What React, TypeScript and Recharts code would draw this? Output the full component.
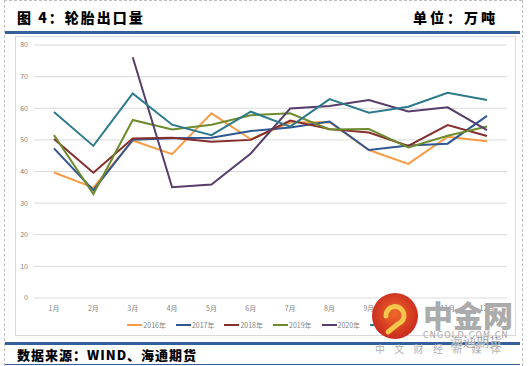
import React from 'react';
import { LineChart, Line, XAxis, YAxis, CartesianGrid, Legend } from 'recharts';

const months = ['1月', '2月', '3月', '4月', '5月', '6月', '7月', '8月', '9月', '10月', '11月', '12月'];
const s2016 = [39.7, 34.9, 49.8, 45.5, 58.4, 50.2, 55.5, 55.6, 46.8, 42.4, 51.0, 49.6];
const s2017 = [47.3, 34.1, 50.0, 50.5, 50.7, 52.8, 53.9, 55.8, 46.8, 48.2, 48.8, 57.6];
const s2018 = [50.3, 39.6, 50.4, 50.7, 49.4, 50.0, 56.1, 53.4, 52.3, 48.1, 54.7, 51.2];
const s2019 = [51.5, 32.9, 56.3, 53.3, 54.8, 57.8, 58.4, 53.3, 53.4, 47.6, 51.3, 54.2];
const s2020 = [null, null, 76.1, 35.0, 35.9, 45.7, 59.9, 60.7, 62.6, 59.0, 60.3, 53.1];
const s2021 = [58.8, 48.1, 64.7, 54.8, 51.5, 58.9, 54.2, 62.9, 58.6, 60.5, 64.9, 62.6];
const yTicks = [0, 10, 20, 30, 40, 50, 60, 70, 80];

const seriesNames = ['2016年', '2017年', '2018年', '2019年', '2020年', '2021年'];
const seriesValues = [s2016, s2017, s2018, s2019, s2020, s2021];
const seriesColors = ['#F99B45', '#2F5791', '#862D2E', '#6E8C2E', '#573D6B', '#2C7A8A'];

const data = months.map((m, i) => {
  const row: Record<string, any> = { month: m };
  seriesNames.forEach((n, k) => {
    row[n] = seriesValues[k][i];
  });
  return row;
});

const tickFont = { fontSize: 7, fill: '#7F7F7F', fontFamily: '"Noto Sans CJK SC", sans-serif' };

const LegendContent = () => (
  <div style={{ display: 'flex', justifyContent: 'center', alignItems: 'center', fontFamily: '"Noto Sans CJK SC", sans-serif', fontSize: 7, color: '#7F7F7F', lineHeight: '10px', paddingTop: 2, paddingLeft: 16 }}>
    {seriesNames.map((n, k) => (
      <div key={n} style={{ display: 'flex', alignItems: 'center', marginRight: 10 }}>
        <svg width={15} height={4} style={{ marginRight: 1 }}>
          <line x1={0} y1={2} x2={15} y2={2} stroke={seriesColors[k]} strokeWidth={2} />
        </svg>
        <span>{n}</span>
      </div>
    ))}
  </div>
);

export default function App() {
  return (
    <div style={{ position: 'absolute', left: 0, top: 0, width: 528, height: 366, background: '#fff', overflow: 'hidden' }}>
      {/* dashed page borders */}
      <div style={{ position: 'absolute', left: 4, top: 0, width: 0, height: 366, borderLeft: '1px dashed #BFBFBF' }} />
      <div style={{ position: 'absolute', left: 522, top: 0, width: 0, height: 366, borderLeft: '1px dashed #BFBFBF' }} />
      <div style={{ position: 'absolute', left: 4, top: 0, width: 518, height: 0, borderTop: '1px dashed #BFBFBF' }} />
      {/* title */}
      <div style={{ position: 'absolute', left: 17, top: 7, fontFamily: '"Noto Sans CJK SC", sans-serif', fontWeight: 900, fontSize: 14, letterSpacing: 2, color: '#000', whiteSpace: 'nowrap' }}>
        图 4：轮胎出口量
      </div>
      <div style={{ position: 'absolute', left: 413, top: 7, fontFamily: '"Noto Sans CJK SC", sans-serif', fontWeight: 900, fontSize: 14, letterSpacing: 3, color: '#000', whiteSpace: 'nowrap' }}>
        单位：万吨
      </div>
      <div style={{ position: 'absolute', left: 5, top: 31, width: 515, height: 3, background: '#33609A' }} />
      {/* chart box */}
      <div style={{ position: 'absolute', left: 15, top: 36, width: 499, height: 298, border: '1px solid #D9D9D9' }} />
      <div style={{ position: 'absolute', left: 15, top: 36 }}>
        <LineChart width={500} height={299} data={data} margin={{ top: 9, right: 8, bottom: 0, left: 0 }}>
          <CartesianGrid vertical={false} stroke="#D9D9D9" strokeWidth={1} />
          <XAxis dataKey="month" axisLine={false} tickLine={false} tickSize={0} tickMargin={8} tick={tickFont} interval={0} height={20} padding={{ left: 20, right: 20 }} />
          <YAxis domain={[0, 80]} ticks={yTicks} axisLine={false} tickLine={false} tickSize={0} tickMargin={6} tick={tickFont} width={19} />
          <Legend verticalAlign="bottom" height={17} content={<LegendContent />} wrapperStyle={{ left: 0, width: 500 }} />
          {seriesNames.map((n, k) => (
            <Line key={n} type="linear" dataKey={n} stroke={seriesColors[k]} strokeWidth={2} dot={false} isAnimationActive={false} connectNulls={false} />
          ))}
        </LineChart>
      </div>
      {/* footer */}
      <div style={{ position: 'absolute', left: 5, top: 342, width: 515, height: 3, background: '#33609A' }} />
      <div style={{ position: 'absolute', left: 17, top: 345, fontFamily: '"Noto Sans CJK SC", sans-serif', fontWeight: 900, fontSize: 13, letterSpacing: 1, color: '#000', whiteSpace: 'nowrap' }}>
        数据来源：WIND、海通期货
      </div>
      <div style={{ position: 'absolute', left: 5, top: 364, width: 515, height: 1, background: '#33609A' }} />
      {/* watermark */}
      <svg style={{ position: 'absolute', left: 0, top: 0 }} width={528} height={366}>
        <defs>
          <radialGradient id="wm" cx="50%" cy="45%" r="55%">
            <stop offset="0%" stopColor="#F06A2A" />
            <stop offset="100%" stopColor="#C8281E" />
          </radialGradient>
        </defs>
        <circle cx={395} cy={316} r={23} fill="url(#wm)" />
        <path d="M386 316 a9 9 0 1 1 12 8 q-4 3 -10 8" fill="none" stroke="#F7C64A" strokeWidth={5} strokeLinecap="round" />
        <text x={423} y={327} fontFamily='"Noto Sans CJK SC", sans-serif' fontWeight={900} fontSize={30} fill="#ABABAB">中金网</text>
        <text x={423} y={338} fontFamily='"DejaVu Sans", sans-serif' fontSize={8} fill="#A6A6A6" letterSpacing={1.2}>CNGOLD.COM.CN</text>
        <text x={375} y={353} fontFamily='"Noto Sans CJK SC", sans-serif' fontSize={10} fill="#B0B0B0" letterSpacing={9.3}>中文财经新媒体</text>
        <text x={450} y={346} fontFamily='"Noto Sans CJK SC", sans-serif' fontSize={13} fill="#444" stroke="#fff" strokeWidth={0.4}>海通期货</text>
      </svg>
    </div>
  );
}
